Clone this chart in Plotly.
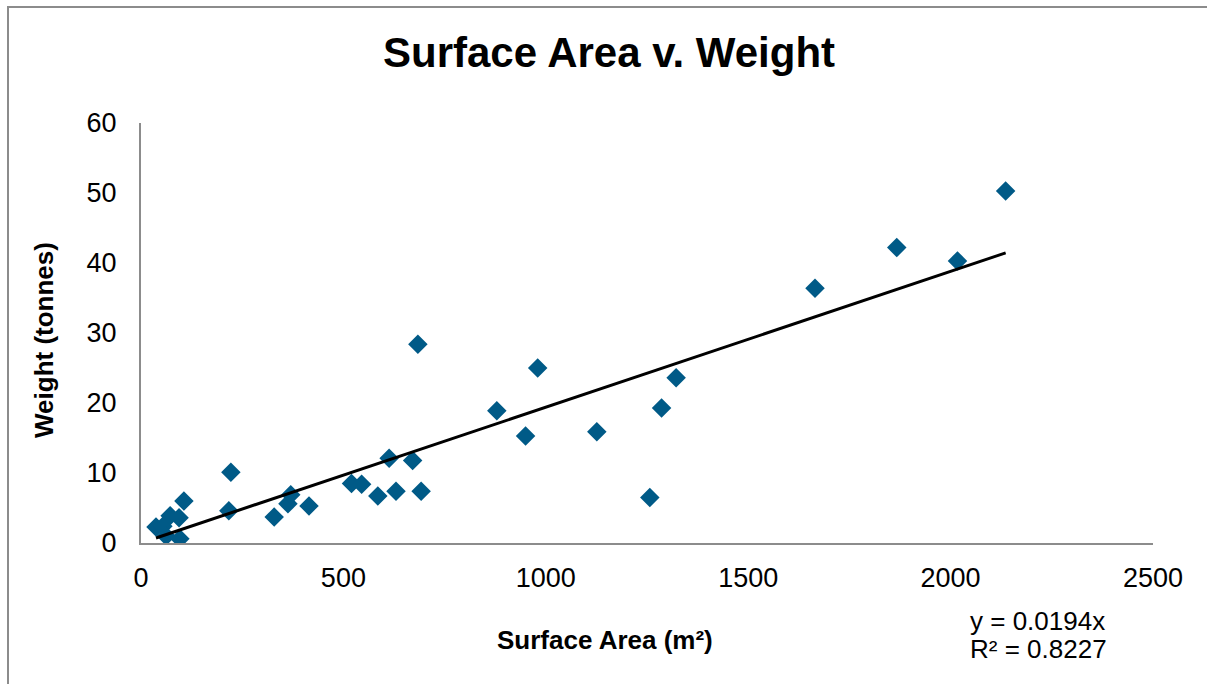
import plotly.graph_objects as go

# Surface area (m²) and weight (tonnes) of each item
surface_area = [37, 54, 62, 72, 94, 96, 106, 217, 222, 329, 363, 370, 415,
                520, 545, 585, 613, 630, 671, 684, 692, 879, 950, 980,
                1126, 1257, 1286, 1322, 1665, 1867, 2017, 2136]
weight = [2.3, 2.4, 1.0, 3.9, 3.6, 0.6, 6.0, 4.6, 10.1, 3.7, 5.6, 6.9, 5.3,
          8.5, 8.4, 6.7, 12.1, 7.4, 11.8, 28.4, 7.4, 18.9, 15.3, 25.0,
          15.9, 6.5, 19.3, 23.6, 36.4, 42.2, 40.3, 50.3]

# Linear trendline through the origin
slope = 0.0194
r_squared = 0.8227
trend_x = [min(surface_area), max(surface_area)]
trend_y = [slope * v for v in trend_x]

x_ticks = [0, 500, 1000, 1500, 2000, 2500]
y_ticks = [0, 10, 20, 30, 40, 50, 60]

FONT = "Liberation Sans, Arial, sans-serif"
W, H = 1207, 684
L, R, T, B = 141, 54, 123, 141
pw, ph = W - L - R, H - T - B


def px(x):
    return (x - L) / pw


def py(y):
    return (H - B - y) / ph


def label(text, x, y, size, xanchor="center", angle=0):
    return dict(text=text, x=px(x), y=py(y), xref="paper", yref="paper",
                showarrow=False, xanchor=xanchor, yanchor="middle",
                textangle=angle, font=dict(size=size, family=FONT))


fig = go.Figure()
fig.add_trace(go.Scatter(
    x=surface_area, y=weight, mode="markers",
    marker=dict(symbol="diamond", size=15, color="#005a87",
                line=dict(width=0)),
    showlegend=False, hoverinfo="x+y",
))
fig.add_trace(go.Scatter(
    x=trend_x, y=trend_y, mode="lines",
    line=dict(color="black", width=3),
    showlegend=False, hoverinfo="skip",
))

axis_common = dict(
    showgrid=False, zeroline=False, showline=True,
    linecolor="#8c8c8c", linewidth=2,
    ticks="outside", tickcolor="rgba(0,0,0,0)",
    tickfont=dict(family=FONT, size=27, color="black"),
)

fig.update_layout(
    width=W, height=H,
    margin=dict(l=L, r=R, t=T, b=B),
    paper_bgcolor="white", plot_bgcolor="white",
    xaxis=dict(range=[0, 2500], tickvals=x_ticks, ticklen=10, **axis_common),
    yaxis=dict(range=[0, 60], tickvals=y_ticks, ticklen=17, **axis_common),
    font=dict(family=FONT, color="black"),
    annotations=[
        label("<b>Surface Area v. Weight</b>", 609, 53, 42),
        label("<b>Surface Area (m²)</b>", 605, 640, 26),
        label("<b>Weight (tonnes)</b>", 44, 340, 26, angle=-90),
        label(f"y = {slope}x", 968, 621, 26, xanchor="left"),
        label(f"R² = {r_squared}", 968, 649, 26, xanchor="left"),
    ],
    shapes=[
        dict(type="rect", xref="paper", yref="paper",
             x0=px(8), y0=py(700), x1=px(1220), y1=py(7),
             line=dict(color="#8c8c8c", width=2), layer="below"),
    ],
)

fig.write_html("out.html")
